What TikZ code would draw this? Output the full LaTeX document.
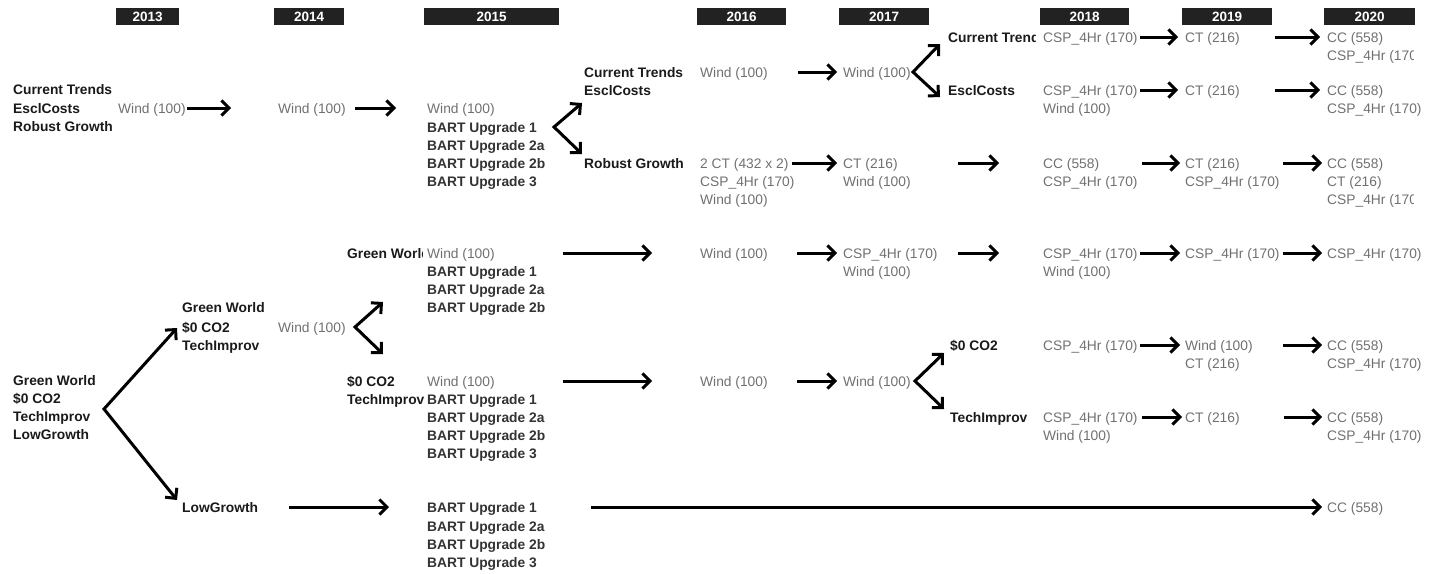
\documentclass[tikz,border=0pt]{standalone}
\usepackage{fontspec}
\setmainfont{Liberation Sans}
\usetikzlibrary{arrows.meta}
\definecolor{hdr}{HTML}{222222}
\definecolor{labc}{HTML}{1A1A1A}
\definecolor{bartc}{HTML}{333333}
\definecolor{valc}{HTML}{707070}
\begin{document}
\begin{tikzpicture}[x=1pt,y=-1pt,
 txt/.style={anchor=base west, inner sep=0pt, yshift=-5pt},
 lab/.style={txt, font=\fontsize{13.8}{16}\selectfont\bfseries, text=labc},
 bart/.style={txt, font=\fontsize{13.8}{16}\selectfont\bfseries, text=bartc},
 val/.style={txt, font=\fontsize{13.8}{16}\selectfont, text=valc},
 yr/.style={fill=hdr, text=white, font=\fontsize{13.5}{15}\selectfont\bfseries, inner sep=0pt, minimum height=17pt, anchor=north west},
 tip/.tip={Straight Barb[length=7.5pt,width=15pt]},
 arr/.style={line width=3pt, -tip},
 fork/.style={line width=3pt, tip-tip, line join=miter}]
\useasboundingbox (0,0) rectangle (1440,573);
% year headers
\node[yr, minimum width=63pt] (y13) at (116,8) {2013};
\node[yr, minimum width=70pt] (y14) at (274,8) {2014};
\node[yr, minimum width=135pt] (y15) at (424,8) {2015};
\node[yr, minimum width=89pt] (y16) at (697,8) {2016};
\node[yr, minimum width=90pt] (y17) at (839,8) {2017};
\node[yr, minimum width=89pt] (y18) at (1040,8) {2018};
\node[yr, minimum width=90pt] (y19) at (1182,8) {2019};
\node[yr, minimum width=91pt] (y20) at (1324,8) {2020};
% scenario labels
\node[lab] (l1) at (13,89) {Current Trends};
\node[lab] (l2) at (13,108) {EsclCosts};
\node[lab] (l3) at (13,126) {Robust Growth};
\node[lab] (l4) at (584,72) {Current Trends};
\node[lab] (l5) at (584,90) {EsclCosts};
\node[lab] (l6) at (584,163) {Robust Growth};
\begin{scope}\clip (940,20) rectangle (1035,50);
\node[lab] (l7) at (948,37) {Current Trends};
\end{scope}
\node[lab] (l8) at (948,90) {EsclCosts};
\begin{scope}\clip (340,240) rectangle (422,265);
\node[lab] (l9) at (347,253) {Green World};
\end{scope}
\node[lab] (l10) at (182,307) {Green World};
\node[lab] (l11) at (182,327) {\$0 CO2};
\node[lab] (l12) at (182,345) {TechImprov};
\node[lab] (l13) at (347,381) {\$0 CO2};
\begin{scope}\clip (340,388) rectangle (426,410);
\node[lab] (l14) at (347,399) {TechImprov};
\end{scope}
\node[lab] (l15) at (950,345) {\$0 CO2};
\node[lab] (l16) at (950,417) {TechImprov};
\node[lab] (l17) at (13,380) {Green World};
\node[lab] (l18) at (13,398) {\$0 CO2};
\node[lab] (l19) at (13,416) {TechImprov};
\node[lab] (l20) at (13,434) {LowGrowth};
\node[lab] (l21) at (182,507) {LowGrowth};
% BART upgrades
\node[bart] (b1) at (427,127) {BART Upgrade 1};
\node[bart] (b2) at (427,145) {BART Upgrade 2a};
\node[bart] (b3) at (427,163) {BART Upgrade 2b};
\node[bart] (b4) at (427,181) {BART Upgrade 3};
\node[bart] (b5) at (427,271) {BART Upgrade 1};
\node[bart] (b6) at (427,289) {BART Upgrade 2a};
\node[bart] (b7) at (427,307) {BART Upgrade 2b};
\node[bart] (b8) at (427,399) {BART Upgrade 1};
\node[bart] (b9) at (427,417) {BART Upgrade 2a};
\node[bart] (b10) at (427,435) {BART Upgrade 2b};
\node[bart] (b11) at (427,453) {BART Upgrade 3};
\node[bart] (b12) at (427,507) {BART Upgrade 1};
\node[bart] (b13) at (427,526) {BART Upgrade 2a};
\node[bart] (b14) at (427,544) {BART Upgrade 2b};
\node[bart] (b15) at (427,562) {BART Upgrade 3};
% values
\node[val] (v1) at (118,108) {Wind (100)};
\node[val] (v2) at (278,108) {Wind (100)};
\node[val] (v3) at (427,108) {Wind (100)};
\node[val] (v4) at (700,72) {Wind (100)};
\node[val] (v5) at (843,72) {Wind (100)};
\node[val] (v6) at (1043,37) {CSP\_4Hr (170)};
\node[val] (v7) at (1185,37) {CT (216)};
\node[val] (v8) at (1327,37) {CC (558)};
\begin{scope}\clip (1320,45) rectangle (1413,65);
\node[val] (v9) at (1327,55) {CSP\_4Hr (170)};
\end{scope}
\node[val] (v10) at (1043,90) {CSP\_4Hr (170)};
\node[val] (v11) at (1043,108) {Wind (100)};
\node[val] (v12) at (1185,90) {CT (216)};
\node[val] (v13) at (1327,90) {CC (558)};
\node[val] (v14) at (1327,108) {CSP\_4Hr (170)};
\node[val] (v15) at (700,163) {2 CT (432 x 2)};
\node[val] (v16) at (700,181) {CSP\_4Hr (170)};
\node[val] (v17) at (700,199) {Wind (100)};
\node[val] (v18) at (843,163) {CT (216)};
\node[val] (v19) at (843,181) {Wind (100)};
\node[val] (v20) at (1043,163) {CC (558)};
\node[val] (v21) at (1043,181) {CSP\_4Hr (170)};
\node[val] (v22) at (1185,163) {CT (216)};
\node[val] (v23) at (1185,181) {CSP\_4Hr (170)};
\node[val] (v24) at (1327,163) {CC (558)};
\node[val] (v25) at (1327,181) {CT (216)};
\begin{scope}\clip (1320,189) rectangle (1413,210);
\node[val] (v26) at (1327,199) {CSP\_4Hr (170)};
\end{scope}
\node[val] (v27) at (427,253) {Wind (100)};
\node[val] (v28) at (700,253) {Wind (100)};
\node[val] (v29) at (843,253) {CSP\_4Hr (170)};
\node[val] (v30) at (843,271) {Wind (100)};
\node[val] (v31) at (1043,253) {CSP\_4Hr (170)};
\node[val] (v32) at (1043,271) {Wind (100)};
\node[val] (v33) at (1185,253) {CSP\_4Hr (170)};
\node[val] (v34) at (1327,253) {CSP\_4Hr (170)};
\node[val] (v35) at (278,327) {Wind (100)};
\node[val] (v36) at (427,381) {Wind (100)};
\node[val] (v37) at (700,381) {Wind (100)};
\node[val] (v38) at (843,381) {Wind (100)};
\node[val] (v39) at (1043,345) {CSP\_4Hr (170)};
\node[val] (v40) at (1185,345) {Wind (100)};
\node[val] (v41) at (1185,363) {CT (216)};
\node[val] (v42) at (1327,345) {CC (558)};
\node[val] (v43) at (1327,363) {CSP\_4Hr (170)};
\node[val] (v44) at (1043,417) {CSP\_4Hr (170)};
\node[val] (v45) at (1043,435) {Wind (100)};
\node[val] (v46) at (1185,417) {CT (216)};
\node[val] (v47) at (1327,417) {CC (558)};
\node[val] (v48) at (1327,435) {CSP\_4Hr (170)};
\node[val] (v49) at (1327,507) {CC (558)};
% straight arrows
\foreach \n/\xa/\xb/\y in {a1/187/231/108, a2/355/396/108, a3/798/837/72,
  a4/1140/1178/37, a5/1275/1320/37, a6/1140/1178/90, a7/1275/1320/90,
  a8/792/837/163, a9/958/999/163, a10/1142/1180/163, a11/1283/1322/163,
  a12/563/652/253, a13/797/837/253, a14/958/999/253, a15/1140/1180/253, a16/1283/1322/253,
  a17/563/652/381, a18/797/837/381, a19/1140/1180/345, a20/1283/1322/345,
  a21/1142/1182/417, a22/1284/1322/417, a23/289/389/507, a24/591/1322/507} {
  \coordinate (\n s) at (\xa,\y);
  \coordinate (\n e) at (\xb,\y);
  \draw[arr] (\n s) -- (\n e);
}
% forks
\foreach \n/\vx/\vy/\ux/\uy/\dx/\dy in {f1/554/127/582/103/582/154,
  f2/913/72/940/44/940/97, f3/355/327/383/302/383/354,
  f4/915/381/944/353/944/409, f5/104/409/177/328/177/500} {
  \coordinate (\n v) at (\vx,\vy);
  \coordinate (\n u) at (\ux,\uy);
  \coordinate (\n d) at (\dx,\dy);
  \draw[fork] (\n u) -- (\n v) -- (\n d);
}
\end{tikzpicture}
\end{document}
